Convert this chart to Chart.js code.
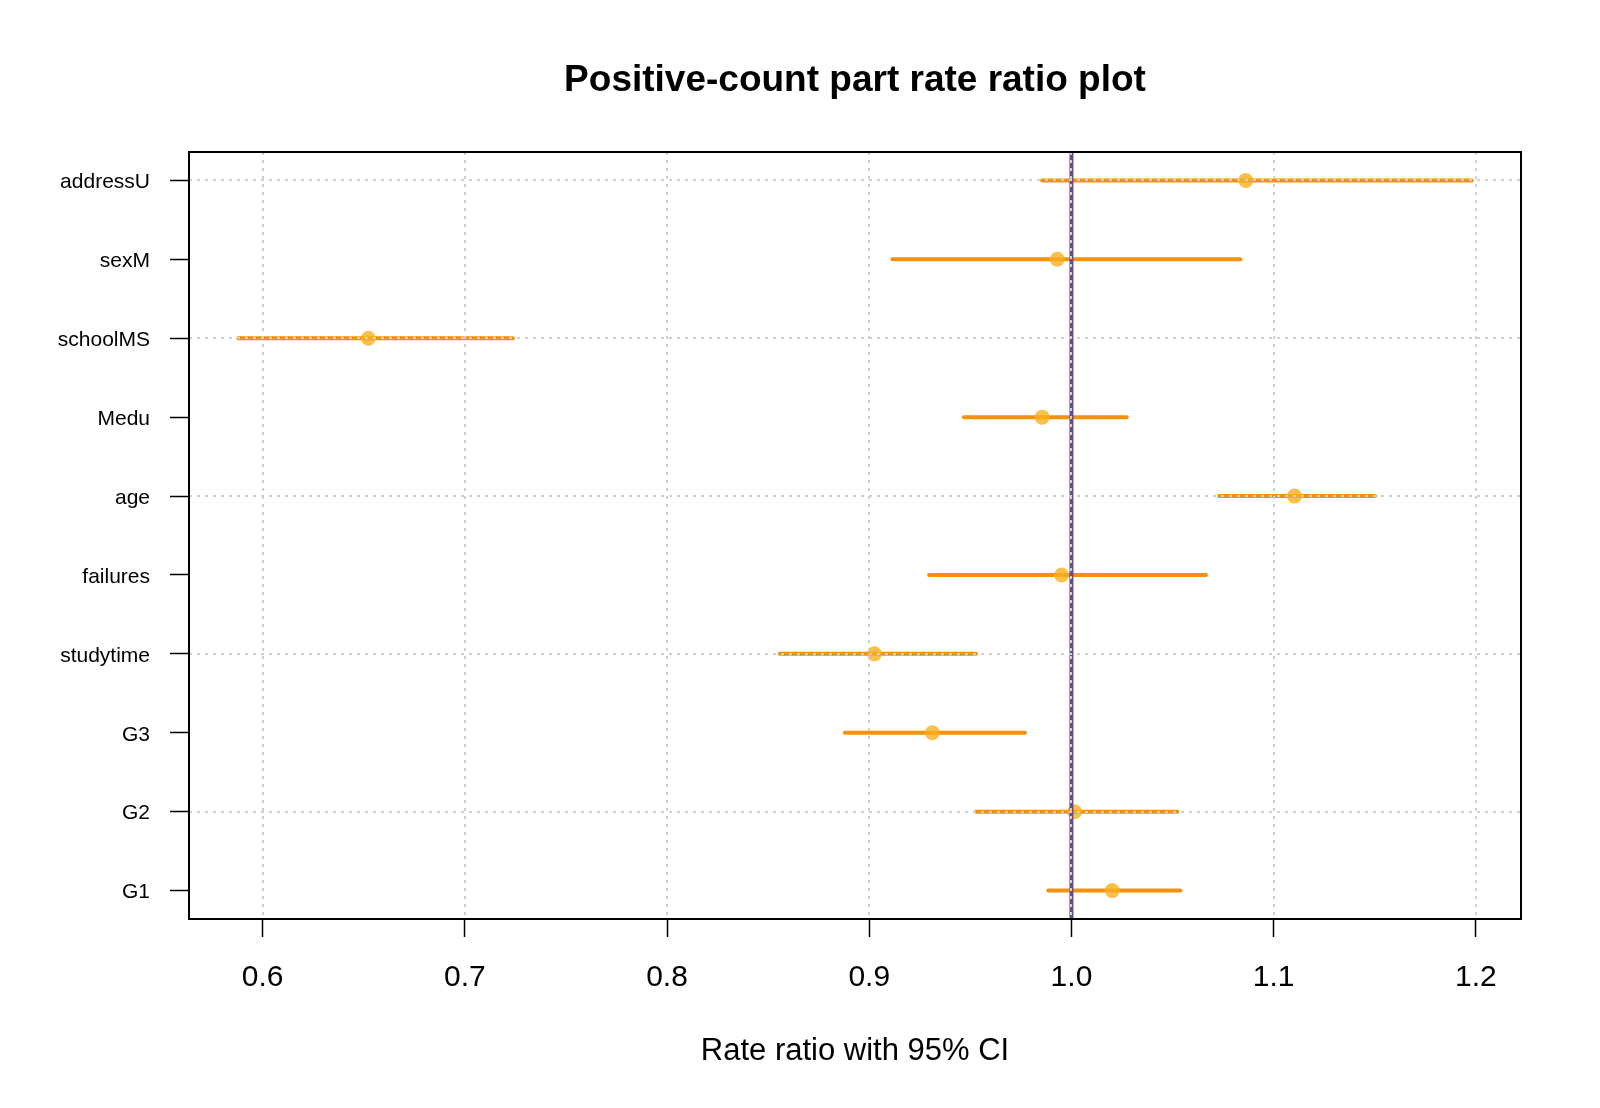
<!DOCTYPE html>
<html>
<head>
<meta charset="utf-8">
<title>Positive-count part rate ratio plot</title>
<script src="https://cdn.jsdelivr.net/npm/chart.js@4.4.1/dist/chart.umd.min.js"></script>
<style>
    body { margin: 0; background: #fff; }
    canvas { display: block; }
</style>
</head>
<body>
<canvas id="rrChart" width="1600" height="1108"></canvas>
<script>
// data, top row first
const terms = [`addressU`, `sexM`, `schoolMS`, `Medu`, `age`, `failures`, `studytime`, `G3`, `G2`, `G1`]
const estimate = [1.0862, 0.9930, 0.6523, 0.9855, 1.1103, 0.9951, 0.9025, 0.9312, 1.0016, 1.0202]
const lower = [0.9855, 0.9115, 0.5880, 0.9468, 1.0731, 0.9296, 0.8557, 0.8879, 0.9528, 0.9885]
const upper = [1.1979, 1.0836, 0.7238, 1.0273, 1.1501, 1.0665, 0.9528, 0.9770, 1.0524, 1.0539]
const xTicks = [0.6, 0.7, 0.8, 0.9, 1.0, 1.1, 1.2]
const refValue = 1
//
const FONT = `"Liberation Sans", Arial, Helvetica, sans-serif`
const lineColor = `#F2920A`
const pointColor = `rgba(250, 175, 30, 0.8)`
const refColor = `#6A4C8C`

// R style 4% range padding
const xLo = Math.min(...lower), xHi = Math.max(...upper)
const xPad = (xHi - xLo) * 0.04
const yMin = 1 - (terms.length - 1) * 0.04
const yMax = terms.length + (terms.length - 1) * 0.04
const rowPos = i => terms.length - i

// segments for each interval
const ciSets = terms.map((t, i) => ({
    type: `line`,
    label: t,
    data: [{ x: lower[i], y: rowPos(i) }, { x: upper[i], y: rowPos(i) }],
    borderColor: lineColor,
    borderWidth: 4,
    borderCapStyle: `round`,
    pointRadius: 0,
    showLine: true
}))

const refSet = {
    type: `line`,
    label: `ref`,
    data: [{ x: refValue, y: yMin }, { x: refValue, y: yMax }],
    borderColor: refColor,
    borderWidth: 4,
    pointRadius: 0,
    showLine: true
}

const pointSet = {
    type: `scatter`,
    label: `estimate`,
    data: terms.map((t, i) => ({ x: estimate[i], y: rowPos(i) })),
    backgroundColor: pointColor,
    borderWidth: 0,
    pointRadius: 7.5
}

// grid on top of the marks, plus the full box
const overlay = {
    id: `overlay`,
    afterDatasetsDraw(chart) {
        const { ctx, chartArea: a, scales: { x, y } } = chart
        ctx.save()
        ctx.strokeStyle = `#CFCFCF`
        ctx.lineWidth = 2
        ctx.setLineDash([3, 5])
        xTicks.forEach(v => {
            const px = Math.round(x.getPixelForValue(v))
            ctx.beginPath()
            ctx.moveTo(px, a.top)
            ctx.lineTo(px, a.bottom)
            ctx.stroke()
        })
        terms.forEach((t, i) => {
            if (rowPos(i) % 2 !== 0) return
            const py = Math.round(y.getPixelForValue(rowPos(i)))
            ctx.beginPath()
            ctx.moveTo(a.left, py)
            ctx.lineTo(a.right, py)
            ctx.stroke()
        })
        ctx.setLineDash([])
        ctx.strokeStyle = `#000`
        ctx.lineWidth = 2
        ctx.strokeRect(a.left, a.top, a.right - a.left, a.bottom - a.top)
        ctx.restore()
    }
}

new Chart(`rrChart`, {
    type: `scatter`,
    data: {
        datasets: [refSet, pointSet, ...ciSets]
    },
    options: {
        responsive: false,
        animation: false,
        devicePixelRatio: 1,
        layout: { padding: { left: 0, right: 79, top: 0, bottom: 0 } },
        plugins: {
            legend: { display: false },
            tooltip: { enabled: false },
            title: {
                display: true,
                text: `Positive-count part rate ratio plot`,
                fullSize: false,
                color: `#000`,
                font: { family: FONT, size: 37, weight: `bold`, lineHeight: 1.2 },
                padding: { top: 58.5, bottom: 49.1 }
            }
        },
        scales: {
            x: {
                type: `linear`,
                min: xLo - xPad,
                max: xHi + xPad,
                afterBuildTicks: scale => { scale.ticks = xTicks.map(v => ({ value: v })) },
                afterFit: scale => { scale.height = 189 },
                ticks: {
                    color: `#000`,
                    font: { family: FONT, size: 30, lineHeight: 1.2 },
                    padding: 23,
                    maxRotation: 0,
                    autoSkip: false,
                    callback: v => Number(v).toFixed(1)
                },
                grid: {
                    drawOnChartArea: false,
                    drawTicks: true,
                    tickLength: 18,
                    tickColor: `#000`,
                    tickWidth: 1.5,
                    color: `#000`
                },
                border: { display: true, color: `#000`, width: 2 },
                title: {
                    display: true,
                    text: `Rate ratio with 95% CI`,
                    color: `#000`,
                    font: { family: FONT, size: 31, lineHeight: 1.2 },
                    padding: { top: 0, bottom: 38 }
                }
            },
            y: {
                type: `linear`,
                min: yMin,
                max: yMax,
                afterBuildTicks: scale => { scale.ticks = terms.map((t, i) => ({ value: rowPos(i) })) },
                afterFit: scale => { scale.width = 189 },
                ticks: {
                    color: `#000`,
                    font: { family: FONT, size: 21 },
                    padding: 20,
                    labelOffset: 2,
                    autoSkip: false,
                    callback: v => terms[terms.length - v]
                },
                grid: {
                    drawOnChartArea: false,
                    drawTicks: true,
                    tickLength: 19,
                    tickColor: `#000`,
                    tickWidth: 1.5,
                    color: `#000`
                },
                border: { display: true, color: `#000`, width: 2 }
            }
        }
    },
    plugins: [overlay]
});
</script>
</body>
</html>
